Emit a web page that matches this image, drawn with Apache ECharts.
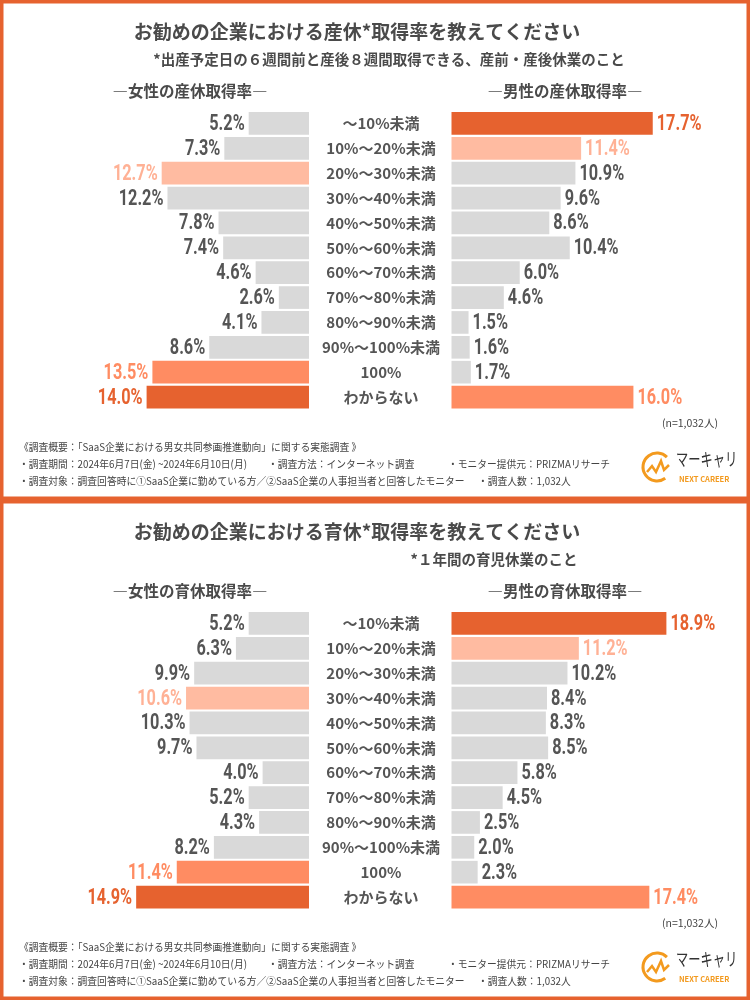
<!DOCTYPE html>
<html><head><meta charset="utf-8">
<script src="https://cdn.jsdelivr.net/npm/echarts@6/dist/echarts.min.js"></script>
<style>html,body{margin:0;padding:0;background:#fff}#c{width:750px;height:1000px}</style>
</head><body><div id="c"></div>
<script>
const categories = ['～10%未満','10%～20%未満','20%～30%未満','30%～40%未満','40%～50%未満','50%～60%未満','60%～70%未満','70%～80%未満','80%～90%未満','90%～100%未満','100%','わからない'];
const maternityFemale = [5.2,7.3,12.7,12.2,7.8,7.4,4.6,2.6,4.1,8.6,13.5,14.0];
const maternityMale   = [17.7,11.4,10.9,9.6,8.6,10.4,6.0,4.6,1.5,1.6,1.7,16.0];
const childcareFemale = [5.2,6.3,9.9,10.6,10.3,9.7,4.0,5.2,4.3,8.2,11.4,14.9];
const childcareMale   = [18.9,11.2,10.2,8.4,8.3,8.5,5.8,4.5,2.5,2.0,2.3,17.4];

const ORANGE='#E6622F', MID='#FF8C62', LIGHT='#FFBBA1', GRAY='#D9D9D9', TXT='#555555';
const JP = '"Noto Sans CJK JP","Noto Sans",sans-serif';
const NUM = 'Roboto,"DejaVu Sans Condensed",sans-serif';

function rankColors(arr){
  const sorted=[...arr].sort((a,b)=>b-a);
  return arr.map(v=> v===sorted[0]?ORANGE : v===sorted[1]?MID : v===sorted[2]?LIGHT : GRAY);
}
function mkData(arr){
  const cols=rankColors(arr);
  return arr.map((v,i)=>({value:v,itemStyle:{color:cols[i]}}));
}
function labelColor(c){return c===GRAY?TXT:(c===LIGHT?'#FFB195':c);}

const panels=[{top:111,f:maternityFemale,m:maternityMale},{top:611,f:childcareFemale,m:childcareMale}];
const grids=[],xAxes=[],yAxes=[],series=[];
function labelSeries(gi,arr,side){
  const cols=rankColors(arr);
  return {type:'custom',xAxisIndex:gi,yAxisIndex:gi,silent:true,z:5,
    data:arr.map((v,i)=>[v,i]),encode:{x:0,y:1},
    renderItem:function(params,api){
      const v=api.value(0), i=api.value(1);
      const pt=api.coord([v,i]);
      return {type:'text',x:pt[0]+(side==='left'?-4:4),y:pt[1]+1,scaleX:0.74,
        style:{text:v.toFixed(1)+'%',font:'bold 22px '+NUM,fill:labelColor(cols[i]),
          textAlign:side==='left'?'right':'left',textVerticalAlign:'middle'}};
    }};
}
panels.forEach((p,k)=>{
  grids.push({left:77,width:232,top:p.top,height:298.5});
  grids.push({left:451.5,width:227.4,top:p.top,height:298.5});
  const gi=k*2;
  xAxes.push({gridIndex:gi,type:'value',min:0,max:20,inverse:true,show:false});
  xAxes.push({gridIndex:gi+1,type:'value',min:0,max:20,show:false});
  yAxes.push({gridIndex:gi,type:'category',data:categories,inverse:true,position:'right',
    axisLine:{show:false},axisTick:{show:false},
    axisLabel:{margin:72,align:'center',fontSize:15,fontWeight:'bold',color:TXT,fontFamily:JP}});
  yAxes.push({gridIndex:gi+1,type:'category',data:categories,inverse:true,show:false});
  series.push({type:'bar',xAxisIndex:gi,yAxisIndex:gi,data:mkData(p.f),barCategoryGap:'9%',silent:true});
  series.push({type:'bar',xAxisIndex:gi+1,yAxisIndex:gi+1,data:mkData(p.m),barCategoryGap:'9%',silent:true});
  series.push(labelSeries(gi,p.f,'left'));
  series.push(labelSeries(gi+1,p.m,'right'));
});

function txt(x,y,t,o,extra){return Object.assign({type:'text',x:x,y:y,style:Object.assign({text:t,fill:'#444',font:'bold 15px '+JP,textVerticalAlign:'middle'},o||{})},extra||{});}

const g=[];
g.push({type:'rect',shape:{x:1.75,y:1.75,width:746.5,height:496.5},style:{fill:'none',stroke:ORANGE,lineWidth:3.5}});
g.push({type:'rect',shape:{x:1.75,y:501.75,width:746.5,height:496.5},style:{fill:'none',stroke:ORANGE,lineWidth:3.5}});

const titles=[
  {t:'お勧めの企業における産休*取得率を教えてください',s:'*出産予定日の６週間前と産後８週間取得できる、産前・産後休業のこと',sx:389,hf:'―女性の産休取得率―',hm:'―男性の産休取得率―'},
  {t:'お勧めの企業における育休*取得率を教えてください',s:'*１年間の育児休業のこと',sx:494,hf:'―女性の育休取得率―',hm:'―男性の育休取得率―'}
];
titles.forEach((tt,k)=>{
  const dy=k*500;
  g.push(txt(357,32+dy,tt.t,{font:'bold 19px '+JP,textAlign:'center',fill:'#4a4a4a'}));
  g.push(txt(tt.sx,59+dy,tt.s,{font:'bold 14.5px '+JP,textAlign:'center',fill:'#4a4a4a'}));
  g.push(txt(190,91+dy,tt.hf,{font:'bold 15.5px '+JP,textAlign:'center',fill:'#4a4a4a'}));
  g.push(txt(565,91+dy,tt.hm,{font:'bold 15.5px '+JP,textAlign:'center',fill:'#4a4a4a'}));
  g.push(txt(718,423+dy,'(n=1,032人)',{font:'10.5px '+JP,textAlign:'right',fill:'#444'}));
  const f='10.5px '+JP, sc={scaleX:0.93};
  g.push(txt(19,447+dy,'《調査概要：「SaaS企業における男女共同参画推進動向」に関する実態調査 》',{font:f},sc));
  g.push(txt(19,464+dy,'・調査期間：2024年6月7日(金) ~2024年6月10日(月)',{font:f},sc));
  g.push(txt(268,464+dy,'・調査方法：インターネット調査',{font:f},sc));
  g.push(txt(448,464+dy,'・モニター提供元：PRIZMAリサーチ',{font:f},sc));
  g.push(txt(19,481+dy,'・調査対象：調査回答時に①SaaS企業に勤めている方／②SaaS企業の人事担当者と回答したモニター',{font:f},sc));
  g.push(txt(478,481+dy,'・調査人数：1,032人',{font:f},sc));
  // logo
  g.push({type:'arc',shape:{cx:657,cy:467+dy,r:14,startAngle:Math.PI*0.3,endAngle:Math.PI*1.75},style:{stroke:'#F39A1E',lineWidth:3,fill:'none'}});
  g.push({type:'polyline',shape:{points:[[647,472+dy],[652,466+dy],[656,472+dy],[661,461+dy],[664,470+dy],[669,465+dy]]},style:{stroke:'#F39A1E',lineWidth:2.5,fill:'none'}});
  g.push(txt(676,459+dy,'マーキャリ',{font:'18px '+JP,fill:'#333'},{scaleX:0.68}));
  g.push(txt(679,479+dy,'NEXT CAREER',{font:'bold 7.5px '+JP,fill:'#F39A1E'}));
});

const chart=echarts.init(document.getElementById('c'),null,{renderer:'canvas'});
chart.setOption({animation:false,backgroundColor:'#fff',grid:grids,xAxis:xAxes,yAxis:yAxes,series:series,graphic:g});
</script></body></html>
